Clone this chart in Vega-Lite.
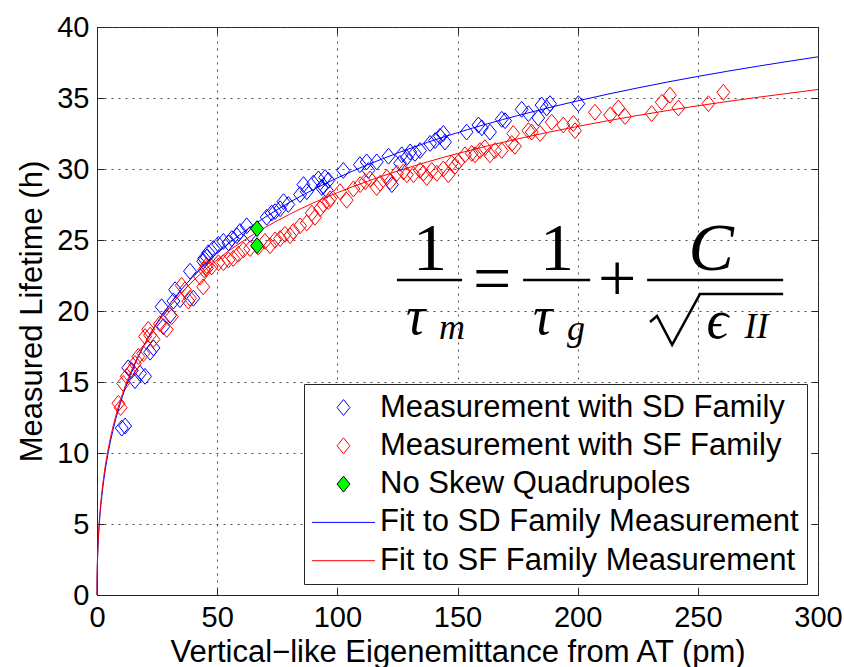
{
  "$schema": "https://vega.github.io/schema/vega-lite/v6.json",
  "width": 721,
  "height": 568,
  "autosize": {"type": "none"},
  "padding": {"left": 97, "top": 27, "right": 26, "bottom": 72},
  "background": "white",
  "config": {
    "font": "Liberation Sans",
    "view": {"stroke": "#262626", "strokeWidth": 1},
    "axis": {
      "labelFont": "Liberation Sans",
      "labelFontSize": 29,
      "labelColor": "black",
      "titleFont": "Liberation Sans",
      "titleFontSize": 31,
      "titleFontWeight": "normal",
      "titleColor": "black",
      "domainColor": "#262626",
      "tickColor": "#262626",
      "gridColor": "#3a3a3a",
      "gridDash": [2, 5],
      "gridOpacity": 0.9,
      "tickSize": -7,
      "labelPadding": 15,
      "labelFlush": false,
      "labelOverlap": false
    },
    "legend": {
      "orient": "bottom-right",
      "offset": 11,
      "padding": 8,
      "rowPadding": 6.3,
      "strokeColor": "#262626",
      "fillColor": "white",
      "symbolSize": 900,
      "symbolStrokeWidth": 1,
      "symbolOffset": 16,
      "labelOffset": 21,
      "labelFont": "Liberation Sans",
      "labelFontSize": 31,
      "labelColor": "black",
      "labelLimit": 600
    }
  },
  "datasets": {
    "measured": [
      {"series": "Measurement with SD Family", "eps": 10.3, "tau": 11.75},
      {"series": "Measurement with SD Family", "eps": 11.7, "tau": 11.9},
      {"series": "Measurement with SD Family", "eps": 13.0, "tau": 16.0},
      {"series": "Measurement with SD Family", "eps": 14.4, "tau": 15.8},
      {"series": "Measurement with SD Family", "eps": 15.8, "tau": 15.1},
      {"series": "Measurement with SD Family", "eps": 17.9, "tau": 15.6},
      {"series": "Measurement with SD Family", "eps": 20.0, "tau": 15.4},
      {"series": "Measurement with SD Family", "eps": 22.1, "tau": 17.1},
      {"series": "Measurement with SD Family", "eps": 23.5, "tau": 17.4},
      {"series": "Measurement with SD Family", "eps": 26.9, "tau": 20.3},
      {"series": "Measurement with SD Family", "eps": 27.6, "tau": 18.9},
      {"series": "Measurement with SD Family", "eps": 30.4, "tau": 19.7},
      {"series": "Measurement with SD Family", "eps": 31.8, "tau": 20.7},
      {"series": "Measurement with SD Family", "eps": 32.5, "tau": 21.5},
      {"series": "Measurement with SD Family", "eps": 34.5, "tau": 20.8},
      {"series": "Measurement with SD Family", "eps": 38.7, "tau": 22.8},
      {"series": "Measurement with SD Family", "eps": 40.1, "tau": 20.9},
      {"series": "Measurement with SD Family", "eps": 44.2, "tau": 23.5},
      {"series": "Measurement with SD Family", "eps": 45.7, "tau": 23.8},
      {"series": "Measurement with SD Family", "eps": 44.6, "tau": 23.7},
      {"series": "Measurement with SD Family", "eps": 46.3, "tau": 24.1},
      {"series": "Measurement with SD Family", "eps": 48.4, "tau": 24.4},
      {"series": "Measurement with SD Family", "eps": 50.5, "tau": 24.7},
      {"series": "Measurement with SD Family", "eps": 52.6, "tau": 24.9},
      {"series": "Measurement with SD Family", "eps": 54.7, "tau": 24.8},
      {"series": "Measurement with SD Family", "eps": 56.1, "tau": 25.1},
      {"series": "Measurement with SD Family", "eps": 58.2, "tau": 25.3},
      {"series": "Measurement with SD Family", "eps": 59.5, "tau": 25.6},
      {"series": "Measurement with SD Family", "eps": 62.3, "tau": 26.0},
      {"series": "Measurement with SD Family", "eps": 63.7, "tau": 25.4},
      {"series": "Measurement with SD Family", "eps": 70.6, "tau": 26.6},
      {"series": "Measurement with SD Family", "eps": 72.7, "tau": 26.9},
      {"series": "Measurement with SD Family", "eps": 74.1, "tau": 27.0},
      {"series": "Measurement with SD Family", "eps": 76.2, "tau": 27.2},
      {"series": "Measurement with SD Family", "eps": 77.6, "tau": 27.7},
      {"series": "Measurement with SD Family", "eps": 79.6, "tau": 27.5},
      {"series": "Measurement with SD Family", "eps": 84.5, "tau": 28.2},
      {"series": "Measurement with SD Family", "eps": 85.9, "tau": 28.9},
      {"series": "Measurement with SD Family", "eps": 87.3, "tau": 28.4},
      {"series": "Measurement with SD Family", "eps": 90.0, "tau": 29.0},
      {"series": "Measurement with SD Family", "eps": 92.1, "tau": 29.3},
      {"series": "Measurement with SD Family", "eps": 93.5, "tau": 28.7},
      {"series": "Measurement with SD Family", "eps": 94.9, "tau": 29.4},
      {"series": "Measurement with SD Family", "eps": 95.6, "tau": 28.5},
      {"series": "Measurement with SD Family", "eps": 94.2, "tau": 28.8},
      {"series": "Measurement with SD Family", "eps": 96.3, "tau": 29.2},
      {"series": "Measurement with SD Family", "eps": 102.5, "tau": 29.9},
      {"series": "Measurement with SD Family", "eps": 109.4, "tau": 30.3},
      {"series": "Measurement with SD Family", "eps": 112.2, "tau": 30.5},
      {"series": "Measurement with SD Family", "eps": 112.9, "tau": 29.9},
      {"series": "Measurement with SD Family", "eps": 116.4, "tau": 30.5},
      {"series": "Measurement with SD Family", "eps": 121.3, "tau": 30.9},
      {"series": "Measurement with SD Family", "eps": 122.7, "tau": 28.9},
      {"series": "Measurement with SD Family", "eps": 126.1, "tau": 30.4},
      {"series": "Measurement with SD Family", "eps": 126.8, "tau": 31.0},
      {"series": "Measurement with SD Family", "eps": 128.9, "tau": 30.8},
      {"series": "Measurement with SD Family", "eps": 130.3, "tau": 31.2},
      {"series": "Measurement with SD Family", "eps": 132.3, "tau": 31.1},
      {"series": "Measurement with SD Family", "eps": 134.4, "tau": 31.3},
      {"series": "Measurement with SD Family", "eps": 138.6, "tau": 31.8},
      {"series": "Measurement with SD Family", "eps": 140.7, "tau": 32.0},
      {"series": "Measurement with SD Family", "eps": 142.7, "tau": 32.3},
      {"series": "Measurement with SD Family", "eps": 144.1, "tau": 32.5},
      {"series": "Measurement with SD Family", "eps": 144.8, "tau": 31.9},
      {"series": "Measurement with SD Family", "eps": 153.8, "tau": 32.6},
      {"series": "Measurement with SD Family", "eps": 158.7, "tau": 33.1},
      {"series": "Measurement with SD Family", "eps": 160.1, "tau": 32.9},
      {"series": "Measurement with SD Family", "eps": 163.5, "tau": 32.6},
      {"series": "Measurement with SD Family", "eps": 168.4, "tau": 33.5},
      {"series": "Measurement with SD Family", "eps": 169.8, "tau": 33.4},
      {"series": "Measurement with SD Family", "eps": 176.7, "tau": 34.2},
      {"series": "Measurement with SD Family", "eps": 179.5, "tau": 33.9},
      {"series": "Measurement with SD Family", "eps": 183.6, "tau": 33.6},
      {"series": "Measurement with SD Family", "eps": 185.0, "tau": 34.5},
      {"series": "Measurement with SD Family", "eps": 187.1, "tau": 34.3},
      {"series": "Measurement with SD Family", "eps": 188.5, "tau": 34.6},
      {"series": "Measurement with SD Family", "eps": 200.3, "tau": 34.6},
      {"series": "Measurement with SF Family", "eps": 8.9, "tau": 13.5},
      {"series": "Measurement with SF Family", "eps": 9.8, "tau": 13.2},
      {"series": "Measurement with SF Family", "eps": 10.9, "tau": 14.9},
      {"series": "Measurement with SF Family", "eps": 12.4, "tau": 15.4},
      {"series": "Measurement with SF Family", "eps": 14.4, "tau": 15.8},
      {"series": "Measurement with SF Family", "eps": 15.8, "tau": 16.3},
      {"series": "Measurement with SF Family", "eps": 17.2, "tau": 16.8},
      {"series": "Measurement with SF Family", "eps": 19.3, "tau": 17.0},
      {"series": "Measurement with SF Family", "eps": 20.0, "tau": 18.2},
      {"series": "Measurement with SF Family", "eps": 21.3, "tau": 18.7},
      {"series": "Measurement with SF Family", "eps": 22.1, "tau": 18.3},
      {"series": "Measurement with SF Family", "eps": 23.5, "tau": 18.0},
      {"series": "Measurement with SF Family", "eps": 26.2, "tau": 19.1},
      {"series": "Measurement with SF Family", "eps": 29.0, "tau": 18.7},
      {"series": "Measurement with SF Family", "eps": 31.1, "tau": 19.6},
      {"series": "Measurement with SF Family", "eps": 35.2, "tau": 21.8},
      {"series": "Measurement with SF Family", "eps": 36.6, "tau": 21.5},
      {"series": "Measurement with SF Family", "eps": 38.0, "tau": 20.7},
      {"series": "Measurement with SF Family", "eps": 38.7, "tau": 20.9},
      {"series": "Measurement with SF Family", "eps": 42.9, "tau": 22.4},
      {"series": "Measurement with SF Family", "eps": 44.2, "tau": 21.7},
      {"series": "Measurement with SF Family", "eps": 45.7, "tau": 23.0},
      {"series": "Measurement with SF Family", "eps": 44.6, "tau": 22.9},
      {"series": "Measurement with SF Family", "eps": 45.6, "tau": 23.2},
      {"series": "Measurement with SF Family", "eps": 47.7, "tau": 23.1},
      {"series": "Measurement with SF Family", "eps": 50.5, "tau": 23.4},
      {"series": "Measurement with SF Family", "eps": 52.6, "tau": 23.4},
      {"series": "Measurement with SF Family", "eps": 54.7, "tau": 23.6},
      {"series": "Measurement with SF Family", "eps": 56.7, "tau": 23.7},
      {"series": "Measurement with SF Family", "eps": 58.8, "tau": 24.0},
      {"series": "Measurement with SF Family", "eps": 60.9, "tau": 24.3},
      {"series": "Measurement with SF Family", "eps": 63.7, "tau": 24.4},
      {"series": "Measurement with SF Family", "eps": 67.1, "tau": 24.5},
      {"series": "Measurement with SF Family", "eps": 69.9, "tau": 24.9},
      {"series": "Measurement with SF Family", "eps": 72.0, "tau": 24.6},
      {"series": "Measurement with SF Family", "eps": 74.1, "tau": 25.0},
      {"series": "Measurement with SF Family", "eps": 76.2, "tau": 25.1},
      {"series": "Measurement with SF Family", "eps": 78.2, "tau": 25.4},
      {"series": "Measurement with SF Family", "eps": 80.3, "tau": 25.3},
      {"series": "Measurement with SF Family", "eps": 81.7, "tau": 25.6},
      {"series": "Measurement with SF Family", "eps": 84.5, "tau": 26.0},
      {"series": "Measurement with SF Family", "eps": 87.3, "tau": 26.2},
      {"series": "Measurement with SF Family", "eps": 89.4, "tau": 26.9},
      {"series": "Measurement with SF Family", "eps": 90.7, "tau": 26.6},
      {"series": "Measurement with SF Family", "eps": 92.8, "tau": 27.2},
      {"series": "Measurement with SF Family", "eps": 94.2, "tau": 27.5},
      {"series": "Measurement with SF Family", "eps": 96.3, "tau": 27.7},
      {"series": "Measurement with SF Family", "eps": 97.0, "tau": 27.9},
      {"series": "Measurement with SF Family", "eps": 101.1, "tau": 28.4},
      {"series": "Measurement with SF Family", "eps": 103.9, "tau": 27.8},
      {"series": "Measurement with SF Family", "eps": 106.7, "tau": 28.6},
      {"series": "Measurement with SF Family", "eps": 109.5, "tau": 28.9},
      {"series": "Measurement with SF Family", "eps": 111.6, "tau": 29.1},
      {"series": "Measurement with SF Family", "eps": 113.6, "tau": 29.3},
      {"series": "Measurement with SF Family", "eps": 116.4, "tau": 28.7},
      {"series": "Measurement with SF Family", "eps": 117.8, "tau": 29.0},
      {"series": "Measurement with SF Family", "eps": 120.6, "tau": 29.4},
      {"series": "Measurement with SF Family", "eps": 122.0, "tau": 29.1},
      {"series": "Measurement with SF Family", "eps": 124.8, "tau": 29.7},
      {"series": "Measurement with SF Family", "eps": 127.5, "tau": 29.8},
      {"series": "Measurement with SF Family", "eps": 128.9, "tau": 29.6},
      {"series": "Measurement with SF Family", "eps": 131.7, "tau": 29.6},
      {"series": "Measurement with SF Family", "eps": 134.4, "tau": 29.9},
      {"series": "Measurement with SF Family", "eps": 135.8, "tau": 29.7},
      {"series": "Measurement with SF Family", "eps": 137.2, "tau": 29.4},
      {"series": "Measurement with SF Family", "eps": 139.3, "tau": 29.9},
      {"series": "Measurement with SF Family", "eps": 141.4, "tau": 29.7},
      {"series": "Measurement with SF Family", "eps": 144.1, "tau": 30.0},
      {"series": "Measurement with SF Family", "eps": 146.2, "tau": 29.6},
      {"series": "Measurement with SF Family", "eps": 147.6, "tau": 30.4},
      {"series": "Measurement with SF Family", "eps": 149.0, "tau": 30.2},
      {"series": "Measurement with SF Family", "eps": 150.4, "tau": 30.5},
      {"series": "Measurement with SF Family", "eps": 153.1, "tau": 31.0},
      {"series": "Measurement with SF Family", "eps": 155.9, "tau": 31.1},
      {"series": "Measurement with SF Family", "eps": 157.3, "tau": 31.0},
      {"series": "Measurement with SF Family", "eps": 159.4, "tau": 31.3},
      {"series": "Measurement with SF Family", "eps": 161.4, "tau": 31.5},
      {"series": "Measurement with SF Family", "eps": 163.5, "tau": 31.0},
      {"series": "Measurement with SF Family", "eps": 165.6, "tau": 31.3},
      {"series": "Measurement with SF Family", "eps": 168.4, "tau": 31.3},
      {"series": "Measurement with SF Family", "eps": 172.6, "tau": 31.8},
      {"series": "Measurement with SF Family", "eps": 173.2, "tau": 32.5},
      {"series": "Measurement with SF Family", "eps": 173.9, "tau": 31.6},
      {"series": "Measurement with SF Family", "eps": 179.5, "tau": 32.7},
      {"series": "Measurement with SF Family", "eps": 180.9, "tau": 32.6},
      {"series": "Measurement with SF Family", "eps": 184.4, "tau": 32.5},
      {"series": "Measurement with SF Family", "eps": 189.2, "tau": 33.3},
      {"series": "Measurement with SF Family", "eps": 194.0, "tau": 33.1},
      {"series": "Measurement with SF Family", "eps": 198.2, "tau": 33.2},
      {"series": "Measurement with SF Family", "eps": 198.9, "tau": 32.7},
      {"series": "Measurement with SF Family", "eps": 207.2, "tau": 34.0},
      {"series": "Measurement with SF Family", "eps": 213.5, "tau": 33.8},
      {"series": "Measurement with SF Family", "eps": 216.9, "tau": 34.3},
      {"series": "Measurement with SF Family", "eps": 219.7, "tau": 33.7},
      {"series": "Measurement with SF Family", "eps": 230.8, "tau": 33.9},
      {"series": "Measurement with SF Family", "eps": 235.0, "tau": 34.7},
      {"series": "Measurement with SF Family", "eps": 238.4, "tau": 35.2},
      {"series": "Measurement with SF Family", "eps": 241.9, "tau": 34.3},
      {"series": "Measurement with SF Family", "eps": 254.4, "tau": 34.6},
      {"series": "Measurement with SF Family", "eps": 260.6, "tau": 35.4}
    ],
    "noskew": [
      {"series": "No Skew Quadrupoles", "eps": 66.6, "tau": 25.8},
      {"series": "No Skew Quadrupoles", "eps": 66.6, "tau": 24.6}
    ],
    "fits": [
      {"series": "Fit to SD Family Measurement", "eps": 0, "tau": 0},
      {"series": "Fit to SD Family Measurement", "eps": 0.02, "tau": 0.77},
      {"series": "Fit to SD Family Measurement", "eps": 0.1, "tau": 1.70},
      {"series": "Fit to SD Family Measurement", "eps": 0.25, "tau": 2.64},
      {"series": "Fit to SD Family Measurement", "eps": 0.5, "tau": 3.67},
      {"series": "Fit to SD Family Measurement", "eps": 1, "tau": 5.07},
      {"series": "Fit to SD Family Measurement", "eps": 2, "tau": 6.94},
      {"series": "Fit to SD Family Measurement", "eps": 3, "tau": 8.30},
      {"series": "Fit to SD Family Measurement", "eps": 5, "tau": 10.32},
      {"series": "Fit to SD Family Measurement", "eps": 7, "tau": 11.85},
      {"series": "Fit to SD Family Measurement", "eps": 10, "tau": 13.66},
      {"series": "Fit to SD Family Measurement", "eps": 15, "tau": 15.95},
      {"series": "Fit to SD Family Measurement", "eps": 20, "tau": 17.72},
      {"series": "Fit to SD Family Measurement", "eps": 30, "tau": 20.41},
      {"series": "Fit to SD Family Measurement", "eps": 40, "tau": 22.44},
      {"series": "Fit to SD Family Measurement", "eps": 50, "tau": 24.07},
      {"series": "Fit to SD Family Measurement", "eps": 60, "tau": 25.44},
      {"series": "Fit to SD Family Measurement", "eps": 70, "tau": 26.61},
      {"series": "Fit to SD Family Measurement", "eps": 80, "tau": 27.64},
      {"series": "Fit to SD Family Measurement", "eps": 90, "tau": 28.55},
      {"series": "Fit to SD Family Measurement", "eps": 100, "tau": 29.37},
      {"series": "Fit to SD Family Measurement", "eps": 125, "tau": 31.12},
      {"series": "Fit to SD Family Measurement", "eps": 150, "tau": 32.56},
      {"series": "Fit to SD Family Measurement", "eps": 175, "tau": 33.76},
      {"series": "Fit to SD Family Measurement", "eps": 200, "tau": 34.80},
      {"series": "Fit to SD Family Measurement", "eps": 225, "tau": 35.71},
      {"series": "Fit to SD Family Measurement", "eps": 250, "tau": 36.52},
      {"series": "Fit to SD Family Measurement", "eps": 275, "tau": 37.24},
      {"series": "Fit to SD Family Measurement", "eps": 300, "tau": 37.90},
      {"series": "Fit to SF Family Measurement", "eps": 0, "tau": 0},
      {"series": "Fit to SF Family Measurement", "eps": 0.02, "tau": 0.82},
      {"series": "Fit to SF Family Measurement", "eps": 0.1, "tau": 1.79},
      {"series": "Fit to SF Family Measurement", "eps": 0.25, "tau": 2.78},
      {"series": "Fit to SF Family Measurement", "eps": 0.5, "tau": 3.86},
      {"series": "Fit to SF Family Measurement", "eps": 1, "tau": 5.30},
      {"series": "Fit to SF Family Measurement", "eps": 2, "tau": 7.20},
      {"series": "Fit to SF Family Measurement", "eps": 3, "tau": 8.57},
      {"series": "Fit to SF Family Measurement", "eps": 5, "tau": 10.58},
      {"series": "Fit to SF Family Measurement", "eps": 7, "tau": 12.09},
      {"series": "Fit to SF Family Measurement", "eps": 10, "tau": 13.86},
      {"series": "Fit to SF Family Measurement", "eps": 15, "tau": 16.06},
      {"series": "Fit to SF Family Measurement", "eps": 20, "tau": 17.74},
      {"series": "Fit to SF Family Measurement", "eps": 30, "tau": 20.25},
      {"series": "Fit to SF Family Measurement", "eps": 40, "tau": 22.12},
      {"series": "Fit to SF Family Measurement", "eps": 50, "tau": 23.61},
      {"series": "Fit to SF Family Measurement", "eps": 60, "tau": 24.84},
      {"series": "Fit to SF Family Measurement", "eps": 70, "tau": 25.89},
      {"series": "Fit to SF Family Measurement", "eps": 80, "tau": 26.80},
      {"series": "Fit to SF Family Measurement", "eps": 90, "tau": 27.61},
      {"series": "Fit to SF Family Measurement", "eps": 100, "tau": 28.33},
      {"series": "Fit to SF Family Measurement", "eps": 125, "tau": 29.85},
      {"series": "Fit to SF Family Measurement", "eps": 150, "tau": 31.09},
      {"series": "Fit to SF Family Measurement", "eps": 175, "tau": 32.12},
      {"series": "Fit to SF Family Measurement", "eps": 200, "tau": 33.00},
      {"series": "Fit to SF Family Measurement", "eps": 225, "tau": 33.77},
      {"series": "Fit to SF Family Measurement", "eps": 250, "tau": 34.45},
      {"series": "Fit to SF Family Measurement", "eps": 275, "tau": 35.05},
      {"series": "Fit to SF Family Measurement", "eps": 300, "tau": 35.60}
    ],
    "eqMain": [
      {"eps": 138.6, "tau": 24.3, "t": "1"},
      {"eps": 191.4, "tau": 24.3, "t": "1"},
      {"eps": 164.4, "tau": 22.1, "t": "="},
      {"eps": 216.4, "tau": 22.1, "t": "+"}
    ],
    "eqCap": [
      {"eps": 255.5, "tau": 24.3, "t": "C"}
    ],
    "eqGreek": [
      {"eps": 132.6, "tau": 19.5, "t": "τ"},
      {"eps": 185.4, "tau": 19.5, "t": "τ"},
      {"eps": 258.1, "tau": 19.2, "t": "ϵ"}
    ],
    "eqSub": [
      {"eps": 147.7, "tau": 18.8, "t": "m"},
      {"eps": 199.3, "tau": 18.7, "t": "g"},
      {"eps": 274.4, "tau": 18.9, "t": "II"}
    ],
    "eqBars": [
      {"eps": 124.8, "eps2": 151.9, "tau": 22.18},
      {"eps": 177.3, "eps2": 205.2, "tau": 22.18},
      {"eps": 228.9, "eps2": 285.5, "tau": 22.18}
    ],
    "eqRadical": [
      {"k": 0, "eps": 230.1, "tau": 19.23},
      {"k": 1, "eps": 233.0, "tau": 19.65},
      {"k": 2, "eps": 239.3, "tau": 17.61},
      {"k": 3, "eps": 250.9, "tau": 21.2},
      {"k": 4, "eps": 285.5, "tau": 21.2}
    ]
  },
  "resolve": {"axis": {"x": "independent", "y": "independent"}},
  "layer": [
    {
      "data": {"name": "measured"},
      "mark": {"type": "point", "size": 900, "filled": true, "strokeWidth": 1, "opacity": 1},
      "encoding": {
        "x": {
          "field": "eps", "type": "quantitative",
          "scale": {"domain": [0, 300], "nice": false, "zero": false},
          "axis": {"orient": "bottom", "title": "Vertical−like Eigenemittance from AT (pm)", "values": [0, 50, 100, 150, 200, 250, 300], "grid": true, "titlePadding": 5}
        },
        "y": {
          "field": "tau", "type": "quantitative",
          "scale": {"domain": [0, 40], "nice": false, "zero": false},
          "axis": {"orient": "left", "title": "Measured Lifetime (h)", "values": [0, 5, 10, 15, 20, 25, 30, 35, 40], "grid": true, "titlePadding": 8}
        },
        "stroke": {
          "field": "series", "type": "nominal",
          "scale": {
            "domain": ["Measurement with SD Family", "Measurement with SF Family", "No Skew Quadrupoles", "Fit to SD Family Measurement", "Fit to SF Family Measurement"],
            "range": ["#0000ff", "#ff0000", "#000000", "#0000ff", "#ff0000"]
          },
          "legend": {"title": null}
        },
        "fill": {
          "field": "series", "type": "nominal",
          "scale": {
            "domain": ["Measurement with SD Family", "Measurement with SF Family", "No Skew Quadrupoles", "Fit to SD Family Measurement", "Fit to SF Family Measurement"],
            "range": ["transparent", "transparent", "#00ff00", "transparent", "transparent"]
          },
          "legend": {"title": null}
        },
        "shape": {
          "field": "series", "type": "nominal",
          "scale": {
            "domain": ["Measurement with SD Family", "Measurement with SF Family", "No Skew Quadrupoles", "Fit to SD Family Measurement", "Fit to SF Family Measurement"],
            "range": ["M0,-0.53L0.43,0L0,0.53L-0.43,0Z", "M0,-0.53L0.43,0L0,0.53L-0.43,0Z", "M0,-0.53L0.43,0L0,0.53L-0.43,0Z", "M-2.1,0H2.1", "M-2.1,0H2.1"]
          },
          "legend": {"title": null}
        }
      }
    },
    {
      "data": {"name": "fits"},
      "mark": {"type": "line", "strokeWidth": 1, "interpolate": "monotone"},
      "encoding": {
        "x": {"field": "eps", "type": "quantitative", "axis": {"orient": "top", "labels": false, "title": null, "grid": false, "values": [0, 50, 100, 150, 200, 250, 300], "domain": false}},
        "y": {"field": "tau", "type": "quantitative", "axis": {"orient": "right", "labels": false, "title": null, "grid": false, "values": [0, 5, 10, 15, 20, 25, 30, 35, 40], "domain": false}},
        "stroke": {"field": "series", "type": "nominal", "legend": {"title": null}}
      }
    },
    {
      "data": {"name": "noskew"},
      "mark": {"type": "point", "size": 900, "filled": true, "strokeWidth": 1, "opacity": 1},
      "encoding": {
        "x": {"field": "eps", "type": "quantitative", "axis": null},
        "y": {"field": "tau", "type": "quantitative", "axis": null},
        "stroke": {"field": "series", "type": "nominal", "legend": {"title": null}},
        "fill": {"field": "series", "type": "nominal", "legend": {"title": null}},
        "shape": {"field": "series", "type": "nominal", "legend": {"title": null}}
      }
    },
    {
      "data": {"name": "eqMain"},
      "mark": {"type": "text", "font": "Liberation Serif", "fontSize": 68, "color": "black", "baseline": "middle", "align": "center"},
      "encoding": {
        "x": {"field": "eps", "type": "quantitative", "axis": null},
        "y": {"field": "tau", "type": "quantitative", "axis": null},
        "text": {"field": "t"}
      }
    },
    {
      "data": {"name": "eqCap"},
      "mark": {"type": "text", "font": "Liberation Serif", "fontSize": 68, "fontStyle": "italic", "color": "black", "baseline": "middle", "align": "center"},
      "encoding": {
        "x": {"field": "eps", "type": "quantitative", "axis": null},
        "y": {"field": "tau", "type": "quantitative", "axis": null},
        "text": {"field": "t"}
      }
    },
    {
      "data": {"name": "eqGreek"},
      "mark": {"type": "text", "font": "Liberation Serif", "fontSize": 54, "fontStyle": "italic", "color": "black", "baseline": "middle", "align": "center"},
      "encoding": {
        "x": {"field": "eps", "type": "quantitative", "axis": null},
        "y": {"field": "tau", "type": "quantitative", "axis": null},
        "text": {"field": "t"}
      }
    },
    {
      "data": {"name": "eqSub"},
      "mark": {"type": "text", "font": "Liberation Serif", "fontSize": 36, "fontStyle": "italic", "color": "black", "baseline": "middle", "align": "center"},
      "encoding": {
        "x": {"field": "eps", "type": "quantitative", "axis": null},
        "y": {"field": "tau", "type": "quantitative", "axis": null},
        "text": {"field": "t"}
      }
    },
    {
      "data": {"name": "eqBars"},
      "mark": {"type": "rule", "color": "black", "strokeWidth": 2.5},
      "encoding": {
        "x": {"field": "eps", "type": "quantitative", "axis": null},
        "x2": {"field": "eps2"},
        "y": {"field": "tau", "type": "quantitative", "axis": null}
      }
    },
    {
      "data": {"name": "eqRadical"},
      "mark": {"type": "line", "color": "black", "strokeWidth": 2.5, "strokeJoin": "miter"},
      "encoding": {
        "x": {"field": "eps", "type": "quantitative", "axis": null},
        "y": {"field": "tau", "type": "quantitative", "axis": null},
        "order": {"field": "k"}
      }
    }
  ]
}
